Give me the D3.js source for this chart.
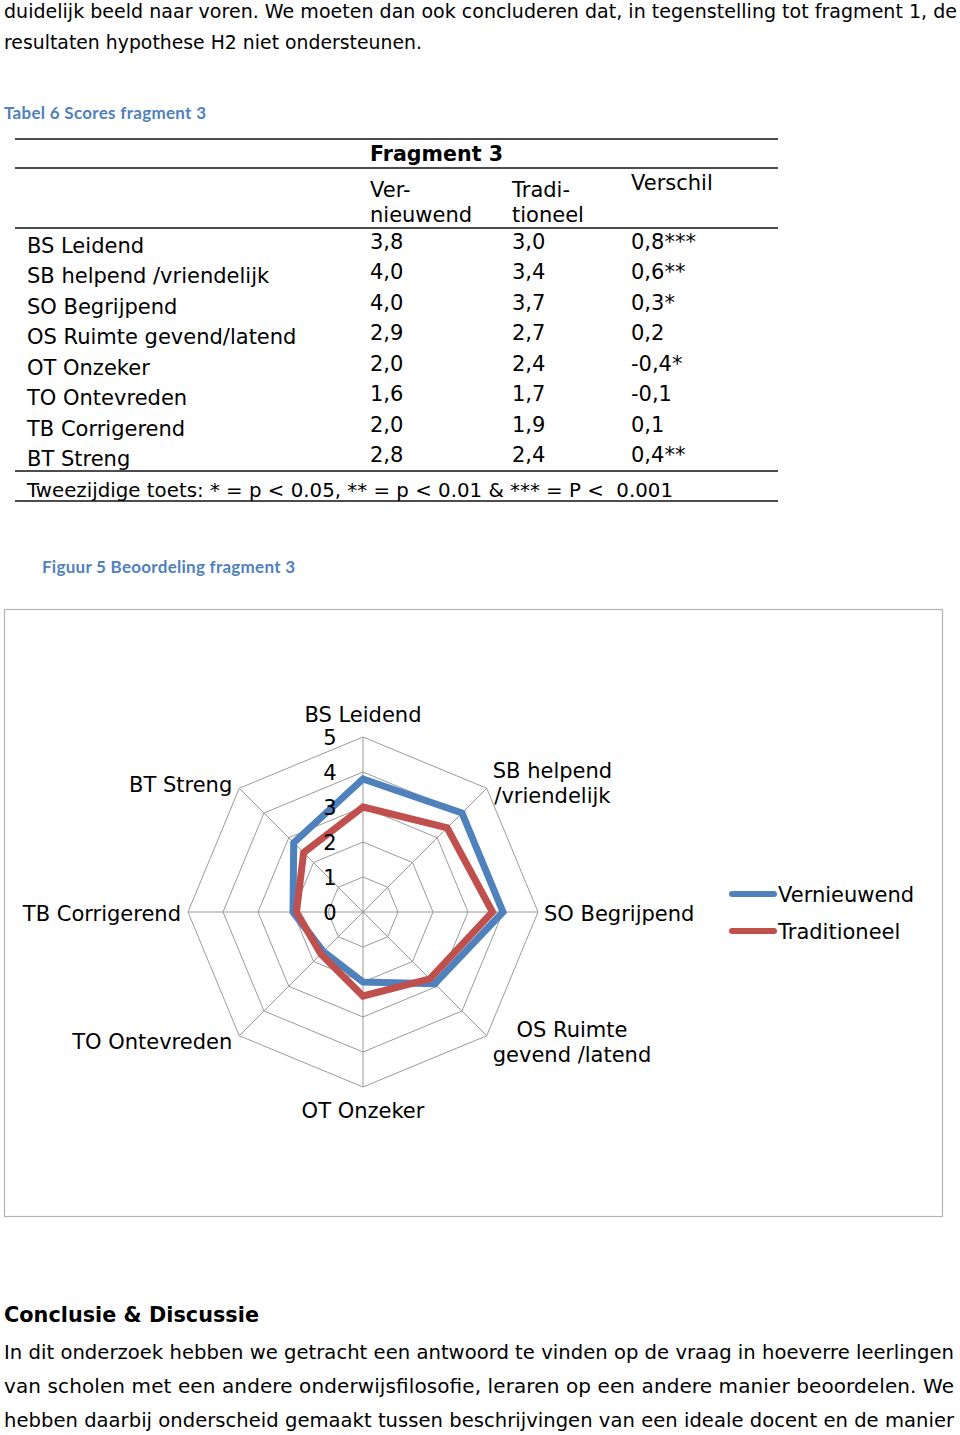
<!DOCTYPE html>
<html><head><meta charset="utf-8">
<script src="https://cdn.jsdelivr.net/npm/d3@7"></script>
<style>body{margin:0;background:#fff} svg{display:block} text{white-space:pre}</style>
</head><body><svg id="c" width="960" height="1435"></svg>
<script>
// ---------- data ----------
const categories = ["BS Leidend","SB helpend /vriendelijk","SO Begrijpend","OS Ruimte gevend/latend","OT Onzeker","TO Ontevreden","TB Corrigerend","BT Streng"];
const radarLabels = [["BS Leidend"],["SB helpend","/vriendelijk"],["SO Begrijpend"],["OS Ruimte","gevend /latend"],["OT Onzeker"],["TO Ontevreden"],["TB Corrigerend"],["BT Streng"]];
const vernieuwend = [3.8,4.0,4.0,2.9,2.0,1.6,2.0,2.8];
const traditioneel = [3.0,3.4,3.7,2.7,2.4,1.7,1.9,2.4];
const verschil = [0.8,0.6,0.3,0.2,-0.4,-0.1,0.1,0.4];
const significance = ["***","**","*","","*","","","**"];
const seriesNames = ["Vernieuwend","Traditioneel"];
const radialTicks = [0,1,2,3,4,5];
const introLines = ["duidelijk beeld naar voren. We moeten dan ook concluderen dat, in tegenstelling tot fragment 1, de","resultaten hypothese H2 niet ondersteunen."];
const tableCaption = "Tabel 6 Scores fragment 3";
const figureCaption = "Figuur 5 Beoordeling fragment 3";
const footnote = "Tweezijdige toets: * = p < 0.05, ** = p < 0.01 & *** = P <  0.001";
const heading = "Conclusie & Discussie";
const conclusionLines = ["In dit onderzoek hebben we getracht een antwoord te vinden op de vraag in hoeverre leerlingen","van scholen met een andere onderwijsfilosofie, leraren op een andere manier beoordelen. We","hebben daarbij onderscheid gemaakt tussen beschrijvingen van een ideale docent en de manier"];

// ---------- helpers ----------
const svg = d3.select("#c");
const FONT = "'DejaVu Sans', Verdana, sans-serif";
const CAPFONT = "Lato, 'Open Sans', sans-serif";
function txt(g, str, x, y, o = {}) {
  const t = g.append("text").attr("x", x).attr("y", y).text(str)
    .attr("font-family", o.family || FONT).attr("font-size", o.size || 21)
    .attr("fill", o.fill || "#000").attr("font-weight", o.weight || "normal")
    .attr("text-anchor", o.anchor || "start");
  if (o.width) {
    const nat = t.node().getComputedTextLength();
    if (nat > o.width) t.attr("font-size", (o.size || 21) * o.width / nat * 0.998);
    t.attr("textLength", o.width).attr("lengthAdjust", "spacing");
  }
  return t;
}
const fmt = v => d3.format(".1f")(v).replace(".", ",").replace("−", "-");

// ---------- intro text ----------
const page = svg.append("g");
txt(page, introLines[0], 4, 18, {size: 20, width: 953});
txt(page, introLines[1], 4, 49, {size: 20, width: 418});
txt(page, tableCaption, 4, 119, {family: CAPFONT, weight: "bold", size: 17, fill: "#4F81BD", width: 202});

// ---------- table ----------
const tbl = svg.append("g");
const rule = y => tbl.append("line").attr("x1", 15).attr("x2", 778).attr("y1", y).attr("y2", y).attr("stroke", "#111").attr("stroke-width", 1.3);
[139, 168, 228, 471, 501].forEach(rule);
const colX = [27, 370, 512, 631];
txt(tbl, "Fragment 3", colX[1], 161, {weight: "bold", size: 21, width: 133});
txt(tbl, "Ver-", colX[1], 197);
txt(tbl, "nieuwend", colX[1], 222);
txt(tbl, "Tradi-", colX[2], 197);
txt(tbl, "tioneel", colX[2], 222);
txt(tbl, "Verschil", colX[3], 190);
const rowY = d3.scaleLinear().domain([0, categories.length - 1]).range([253, 466]);
categories.forEach((c, i) => {
  txt(tbl, c, colX[0], rowY(i));
  txt(tbl, fmt(vernieuwend[i]), colX[1], rowY(i) - 4);
  txt(tbl, fmt(traditioneel[i]), colX[2], rowY(i) - 4);
  txt(tbl, fmt(verschil[i]) + significance[i], colX[3], rowY(i) - 4);
});
txt(tbl, footnote, colX[0], 497, {size: 20, width: 646});

// ---------- figure ----------
txt(page, figureCaption, 42, 573, {family: CAPFONT, weight: "bold", size: 17, fill: "#4F81BD", width: 253});
svg.append("rect").attr("x", 4.5).attr("y", 609.5).attr("width", 938).attr("height", 607)
  .attr("fill", "#fff").attr("stroke", "#b3b3b3").attr("stroke-width", 1.2);

const cx = 363, cy = 912;
const chart = svg.append("g").attr("transform", `translate(${cx},${cy})`);
const r = d3.scaleLinear().domain([0, 5]).range([0, 175]);
const ang = d3.scaleLinear().domain([0, categories.length]).range([0, 2 * Math.PI]);
const idx = d3.range(categories.length);

// grid
const ring = d3.lineRadial().angle(i => ang(i)).curve(d3.curveLinearClosed);
radialTicks.filter(t => t > 0).forEach(t => {
  chart.append("path").attr("d", ring.radius(r(t))(idx)).attr("fill", "none").attr("stroke", "#9a9a9a").attr("stroke-width", 1);
});
idx.forEach(i => {
  const a = ang(i);
  chart.append("line").attr("x1", 0).attr("y1", 0)
    .attr("x2", r(5) * Math.sin(a)).attr("y2", -r(5) * Math.cos(a))
    .attr("stroke", "#9a9a9a").attr("stroke-width", 1);
});

// series
const colors = ["#4F81BD", "#C0504D"];
const series = [vernieuwend, traditioneel];
const line = d3.lineRadial().angle((d, i) => ang(i)).radius(d => r(d)).curve(d3.curveLinearClosed);
series.forEach((s, k) => {
  chart.append("path").attr("d", line(s)).attr("fill", "none")
    .attr("stroke", colors[k]).attr("stroke-width", 7).attr("stroke-linejoin", "miter");
});

// tick labels
radialTicks.forEach(t => {
  txt(chart, String(t), -33, -r(t) + 7.5, {size: 21, anchor: "middle"});
});

// category labels
radarLabels.forEach((lines, i) => {
  const a = ang(i), s = Math.sin(a), c = Math.cos(a);
  const vx = r(5) * s, vy = -r(5) * c;
  const g = chart.append("g");
  const ts = lines.map(l => txt(g, l, 0, 0, {anchor: "middle"}));
  const w = d3.max(ts, t => t.node().getComputedTextLength());
  let x, yc;
  if (Math.abs(s) < 0.1) { x = vx; yc = vy - c * 23; }
  else if (s > 0) { x = vx + 6 + w / 2; yc = vy + (c > 0.1 ? -5 : (c < -0.1 ? 6 : 1)); }
  else { x = vx - 7 - w / 2; yc = vy + (c > 0.1 ? -4 : (c < -0.1 ? 6 : 1)); }
  const lh = 25;
  ts.forEach((t, j) => t.attr("x", x).attr("y", yc - (lines.length - 1) * lh / 2 + j * lh + 7.5));
});

// legend
const leg = svg.append("g").attr("transform", "translate(732,894)");
seriesNames.forEach((n, k) => {
  const y = k * 37;
  leg.append("line").attr("x1", 0).attr("x2", 42).attr("y1", y).attr("y2", y)
    .attr("stroke", colors[k]).attr("stroke-width", 6).attr("stroke-linecap", "round");
  txt(leg, n, 46, y + 7.5);
});

// ---------- conclusion ----------
txt(page, heading, 4, 1322, {weight: "bold", size: 21, width: 255});
conclusionLines.forEach((l, i) => txt(page, l, 4, 1359 + i * 34, {size: 20, width: 950}));
</script></body></html>
